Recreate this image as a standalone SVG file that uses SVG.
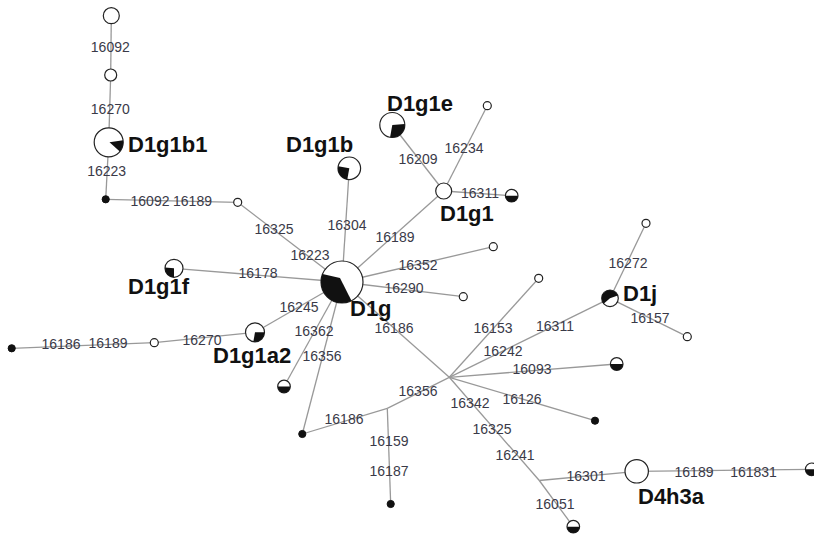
<svg xmlns="http://www.w3.org/2000/svg" width="814" height="534" viewBox="0 0 814 534">
<style>
.e{stroke:#999;stroke-width:1.3;fill:none}
.n{fill:#fff;stroke:#222;stroke-width:1.2}
.b{fill:#111;stroke:#111;stroke-width:1}
.k{fill:#111;stroke:none}
.m{font-family:"Liberation Sans",Arial,sans-serif;font-size:14px;fill:#3a3a48;text-anchor:middle}
.h{font-family:"Liberation Sans",Arial,sans-serif;font-size:22px;font-weight:bold;fill:#111}
</style>
<rect width="814" height="534" fill="#fff"/>
<g id="connectors">
<line class="e" x1="111.3" y1="15.7" x2="110.7" y2="75"/>
<line class="e" x1="110.7" y1="75" x2="108.7" y2="142.3"/>
<line class="e" x1="108.7" y1="142.3" x2="105.7" y2="199.3"/>
<line class="e" x1="105.7" y1="199.3" x2="237.7" y2="202.3"/>
<line class="e" x1="237.7" y1="202.3" x2="342" y2="282"/>
<line class="e" x1="349.3" y1="168.3" x2="342" y2="282"/>
<line class="e" x1="392.3" y1="125" x2="443.7" y2="191"/>
<line class="e" x1="443.7" y1="191" x2="487.3" y2="105.7"/>
<line class="e" x1="443.7" y1="191" x2="511.7" y2="195.7"/>
<line class="e" x1="443.7" y1="191" x2="342" y2="282"/>
<line class="e" x1="342" y1="282" x2="493.3" y2="246.7"/>
<line class="e" x1="342" y1="282" x2="463.3" y2="296.7"/>
<line class="e" x1="174" y1="268.3" x2="342" y2="282"/>
<line class="e" x1="342" y1="282" x2="255" y2="332.3"/>
<line class="e" x1="255" y1="332.3" x2="154.3" y2="342.7"/>
<line class="e" x1="154.3" y1="342.7" x2="11.7" y2="348.3"/>
<line class="e" x1="342" y1="282" x2="284" y2="386.5"/>
<line class="e" x1="342" y1="282" x2="302.3" y2="434"/>
<line class="e" x1="302.3" y1="434" x2="387.3" y2="408.3"/>
<line class="e" x1="387.3" y1="408.3" x2="449.3" y2="377.3"/>
<line class="e" x1="387.3" y1="408.3" x2="390.7" y2="504"/>
<line class="e" x1="449.3" y1="377.3" x2="342" y2="282"/>
<line class="e" x1="449.3" y1="377.3" x2="538.7" y2="278.3"/>
<line class="e" x1="449.3" y1="377.3" x2="610" y2="298.3"/>
<line class="e" x1="610" y1="298.3" x2="646" y2="223.3"/>
<line class="e" x1="610" y1="298.3" x2="687.3" y2="336.7"/>
<line class="e" x1="449.3" y1="377.3" x2="616.7" y2="364"/>
<line class="e" x1="449.3" y1="377.3" x2="595" y2="420.7"/>
<line class="e" x1="449.3" y1="377.3" x2="539.3" y2="480.5"/>
<line class="e" x1="539.3" y1="480.5" x2="573.3" y2="526.7"/>
<line class="e" x1="539.3" y1="480.5" x2="636.7" y2="471.3"/>
<line class="e" x1="636.7" y1="471.3" x2="811.7" y2="469.3"/>
</g>
<g id="mutations">
<text class="m" x="110.3" y="52">16092</text>
<text class="m" x="110.3" y="114">16270</text>
<text class="m" x="106.7" y="176">16223</text>
<text class="m" x="150" y="206">16092</text>
<text class="m" x="192.5" y="206">16189</text>
<text class="m" x="274" y="234">16325</text>
<text class="m" x="310" y="260">16223</text>
<text class="m" x="347" y="230">16304</text>
<text class="m" x="418" y="164">16209</text>
<text class="m" x="464" y="153">16234</text>
<text class="m" x="480" y="198">16311</text>
<text class="m" x="395" y="242">16189</text>
<text class="m" x="418" y="270">16352</text>
<text class="m" x="404" y="293">16290</text>
<text class="m" x="258" y="278">16178</text>
<text class="m" x="299" y="312">16245</text>
<text class="m" x="202" y="345">16270</text>
<text class="m" x="108" y="348">16189</text>
<text class="m" x="61" y="349">16186</text>
<text class="m" x="314" y="336">16362</text>
<text class="m" x="322" y="361">16356</text>
<text class="m" x="394" y="333">16186</text>
<text class="m" x="493" y="333">16153</text>
<text class="m" x="555" y="331">16311</text>
<text class="m" x="503" y="356">16242</text>
<text class="m" x="532" y="374">16093</text>
<text class="m" x="522" y="404">16126</text>
<text class="m" x="470" y="408">16342</text>
<text class="m" x="418" y="396">16356</text>
<text class="m" x="344" y="424">16186</text>
<text class="m" x="389" y="446">16159</text>
<text class="m" x="389" y="476">16187</text>
<text class="m" x="492" y="434">16325</text>
<text class="m" x="515" y="460">16241</text>
<text class="m" x="586" y="481">16301</text>
<text class="m" x="555" y="509">16051</text>
<text class="m" x="694" y="477">16189</text>
<text class="m" x="753.5" y="477">161831</text>
<text class="m" x="628" y="268">16272</text>
<text class="m" x="650" y="323">16157</text>
</g>
<g id="mv-top"><circle class="n" cx="111.3" cy="15.7" r="8"/></g>
<g id="mv-2"><circle class="n" cx="110.7" cy="75" r="6"/></g>
<g id="D1g1b1"><circle class="n" cx="108.7" cy="142.3" r="14.5"/><path class="k" d="M109.5 142.3 L123.1 140.3 A14.5 14.5 0 0 1 119.8 151.6 Z"/><text class="h" x="128" y="152">D1g1b1</text></g>
<g id="bd-1"><circle class="b" cx="105.7" cy="199.3" r="3.6"/></g>
<g id="mv-3"><circle class="n" cx="237.7" cy="202.3" r="4"/></g>
<g id="D1g"><circle class="n" cx="342" cy="282" r="21"/><path class="k" d="M340 278 L351.5 300.7 A21 21 0 0 1 322.5 274.1 Z"/><text class="h" x="350" y="316">D1g</text></g>
<g id="D1g1b"><circle class="n" cx="349.3" cy="168.3" r="11.3"/><path class="k" d="M349.3 168.3 L347.3 179.4 A11.3 11.3 0 0 1 338.2 166.3 Z"/><text class="h" x="286" y="152">D1g1b</text></g>
<g id="D1g1e"><circle class="n" cx="392.3" cy="125" r="12.5"/><path class="k" d="M392.3 125 L404.75 123.9 A12.5 12.5 0 0 1 390.1 137.3 Z"/><text class="h" x="387" y="111">D1g1e</text></g>
<g id="mv-4"><circle class="n" cx="487.3" cy="105.7" r="4"/></g>
<g id="D1g1"><circle class="n" cx="443.7" cy="191" r="8"/><text class="h" x="440" y="221">D1g1</text></g>
<g id="hb-1"><circle class="n" cx="511.7" cy="195.7" r="6.3"/><path class="k" d="M505.4 195.7 A6.3 6.3 0 0 0 518 195.7 Z"/></g>
<g id="mv-5"><circle class="n" cx="493.3" cy="246.7" r="4"/></g>
<g id="mv-6"><circle class="n" cx="463.3" cy="296.7" r="4"/></g>
<g id="D1g1f"><circle class="n" cx="174" cy="268.3" r="9"/><path class="k" d="M174 268.3 L174 277.3 A9 9 0 0 1 165 267.5 Z"/><text class="h" x="128" y="294">D1g1f</text></g>
<g id="D1g1a2"><circle class="n" cx="255" cy="332.3" r="9.5"/><path class="k" d="M255 332.3 L264.5 332.3 A9.5 9.5 0 0 1 253.35 341.66 Z"/><text class="h" x="213" y="363">D1g1a2</text></g>
<g id="mv-7"><circle class="n" cx="154.3" cy="342.7" r="4"/></g>
<g id="bd-2"><circle class="b" cx="11.7" cy="348.3" r="3.6"/></g>
<g id="hb-2"><circle class="n" cx="284" cy="386.5" r="6.3"/><path class="k" d="M277.7 386.5 A6.3 6.3 0 0 0 290.3 386.5 Z"/></g>
<g id="bd-3"><circle class="b" cx="302.3" cy="434" r="3.6"/></g>
<g id="bd-4"><circle class="b" cx="390.7" cy="504" r="3.6"/></g>
<g id="mv-8"><circle class="n" cx="538.7" cy="278.3" r="4"/></g>
<g id="D1j"><circle class="n" cx="610" cy="298.3" r="8.3"/><path class="k" d="M610 298.3 L603.64 303.64 A8.3 8.3 0 1 1 617.8 295.46 Z"/><text class="h" x="623" y="301">D1j</text></g>
<g id="mv-9"><circle class="n" cx="646" cy="223.3" r="4"/></g>
<g id="mv-10"><circle class="n" cx="687.3" cy="336.7" r="4"/></g>
<g id="hb-3"><circle class="n" cx="616.7" cy="364" r="6.3"/><path class="k" d="M610.4 364 A6.3 6.3 0 0 0 623 364 Z"/></g>
<g id="bd-5"><circle class="b" cx="595" cy="420.7" r="3.6"/></g>
<g id="hb-4"><circle class="n" cx="573.3" cy="526.7" r="6.3"/><path class="k" d="M567 526.7 A6.3 6.3 0 0 0 579.6 526.7 Z"/></g>
<g id="D4h3a"><circle class="n" cx="636.7" cy="471.3" r="11.7"/><text class="h" x="638" y="504">D4h3a</text></g>
<g id="hb-5"><circle class="n" cx="811.7" cy="469.3" r="6.3"/><path class="k" d="M805.4 469.3 A6.3 6.3 0 0 0 818 469.3 Z"/></g>
</svg>
